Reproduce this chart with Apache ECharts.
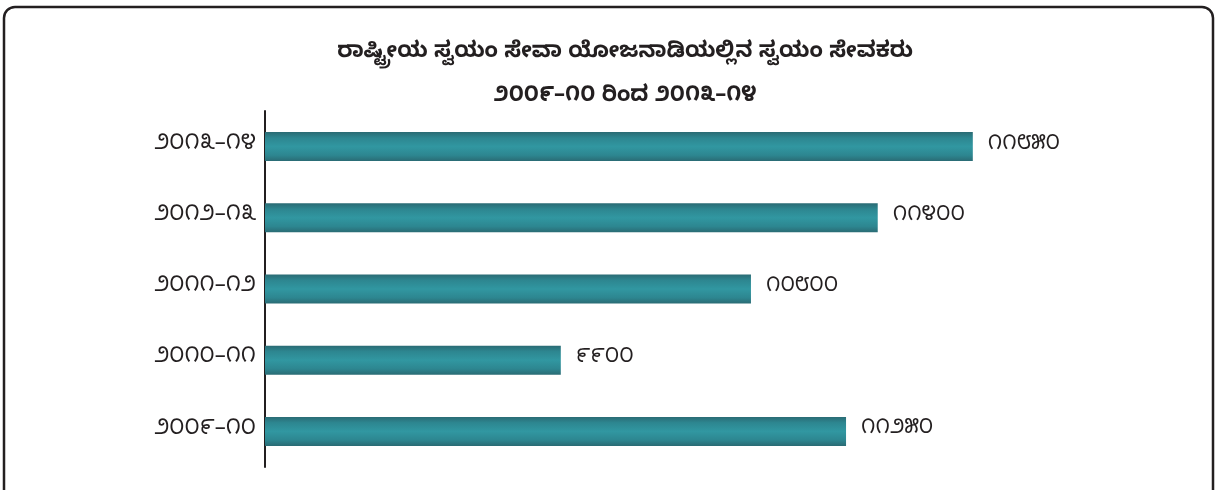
<!DOCTYPE html>
<html>
<head>
<meta charset="utf-8">
<script src="https://cdn.jsdelivr.net/npm/echarts@6/dist/echarts.min.js"></script>
<style>html,body{margin:0;padding:0;background:#fff}#c{width:1220px;height:490px}</style>
</head>
<body>
<div id="c"></div>
<script>
const titleLine1 = 'ರಾಷ್ಟ್ರೀಯ ಸ್ವಯಂ ಸೇವಾ ಯೋಜನಾಡಿಯಲ್ಲಿನ ಸ್ವಯಂ ಸೇವಕರು';
const titleLine2 = '೨೦೦೯–೧೦ ರಿಂದ ೨೦೧೩–೧೪';
const categories = ['೨೦೦೯–೧೦', '೨೦೧೦–೧೧', '೨೦೧೧–೧೨', '೨೦೧೨–೧೩', '೨೦೧೩–೧೪'];
const values = [11250, 9900, 10800, 11400, 11850];
const valueLabels = ['೧೧೨೫೦', '೯೯೦೦', '೧೦೮೦೦', '೧೧೪೦೦', '೧೧೮೫೦'];

const chart = echarts.init(document.getElementById('c'));
const font = '"Noto Sans Kannada", "Noto Sans", sans-serif';
chart.setOption({
  animation: false,
  title: {
    text: titleLine1 + '\n' + titleLine2,
    left: 620,
    textAlign: 'center',
    top: 28,
    textStyle: { fontSize: 22, fontWeight: 'bold', color: '#231f20', fontFamily: font, lineHeight: 44 }
  },
  graphic: [{
    type: 'rect',
    shape: { x: 4, y: 7, width: 1209, height: 500, r: 11 },
    style: { fill: 'none', stroke: '#231f20', lineWidth: 2.5 },
    silent: true
  }],
  grid: { left: 265, top: 111, width: 739.5, bottom: 23 },
  xAxis: {
    type: 'value', min: 8500, max: 12000, show: false
  },
  yAxis: {
    type: 'category',
    data: categories,
    axisLine: { lineStyle: { color: '#231f20', width: 2 } },
    axisTick: { show: false },
    axisLabel: { fontSize: 22, color: '#231f20', margin: 9, fontFamily: font }
  },
  series: [{
    type: 'bar',
    data: values,
    barWidth: 29,
    itemStyle: {
      color: new echarts.graphic.LinearGradient(0, 0, 0, 1, [
        { offset: 0, color: '#2a6b74' },
        { offset: 0.2, color: '#2d8690' },
        { offset: 0.5, color: '#3197a1' },
        { offset: 0.8, color: '#2d8690' },
        { offset: 1, color: '#2a6b74' }
      ])
    },
    label: {
      show: true,
      position: 'right',
      distance: 15,
      fontSize: 21,
      color: '#231f20',
      fontFamily: font,
      formatter: p => valueLabels[p.dataIndex]
    }
  }]
});
</script>
</body>
</html>
